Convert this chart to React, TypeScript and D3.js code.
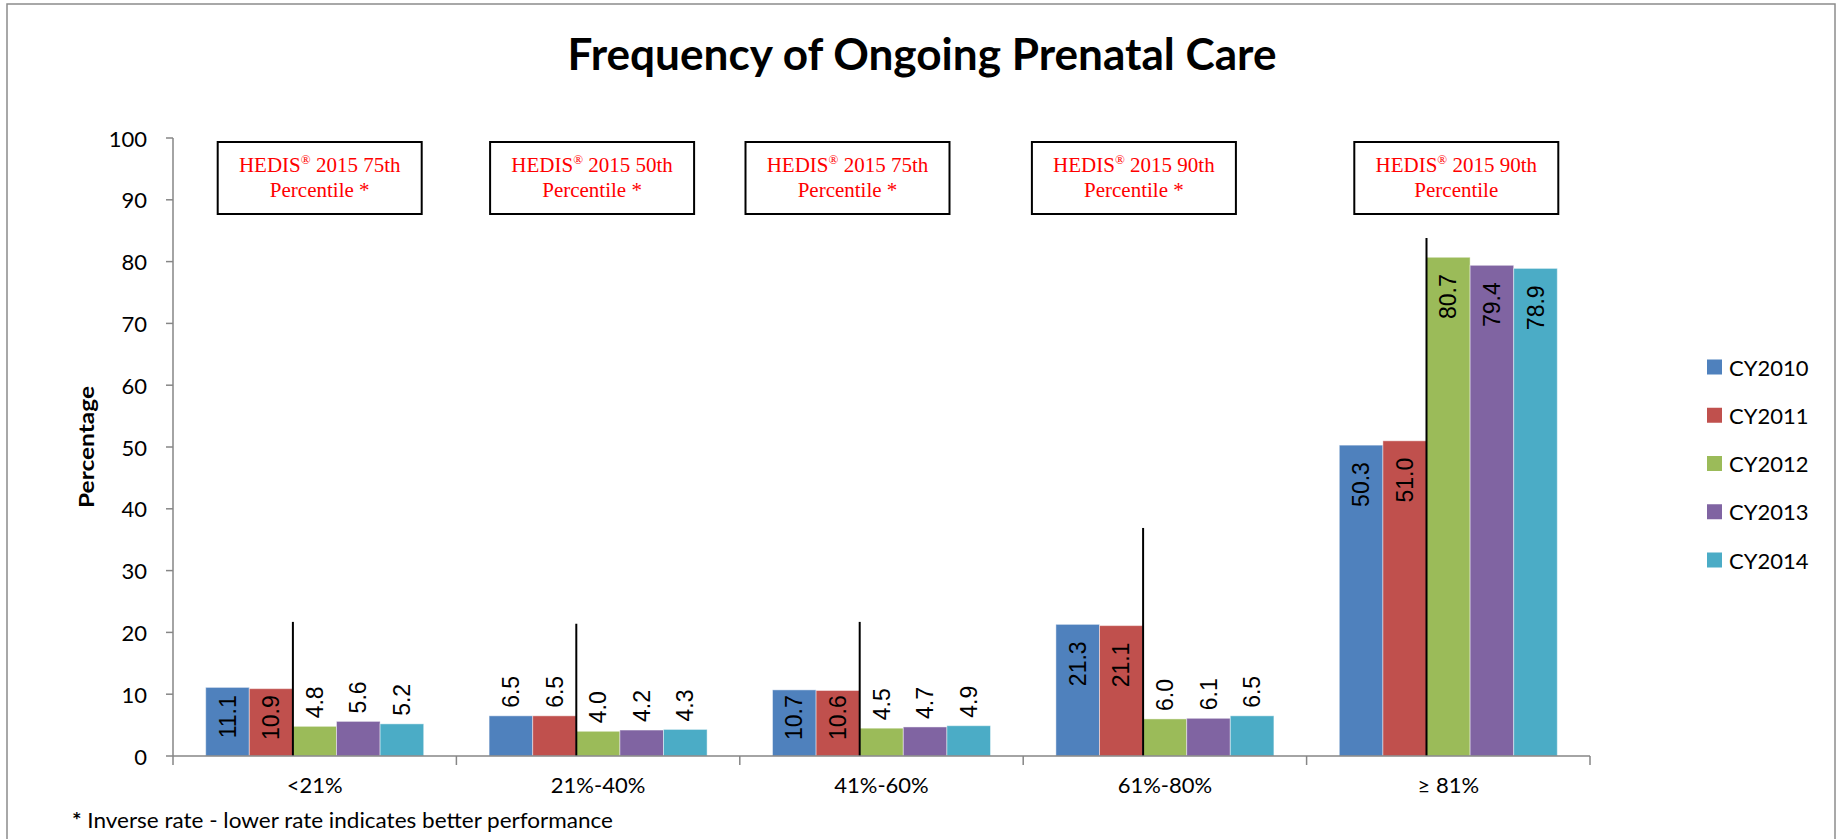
import React from 'react';
import * as d3 from 'd3';

const categories = ['<21%', '21%-40%', '41%-60%', '61%-80%', '≥ 81%'];
const seriesNames = ['CY2010', 'CY2011', 'CY2012', 'CY2013', 'CY2014'];
const cy2010 = [11.1, 6.5, 10.7, 21.3, 50.3];
const cy2011 = [10.9, 6.5, 10.6, 21.1, 51.0];
const cy2012 = [4.8, 4.0, 4.5, 6.0, 80.7];
const cy2013 = [5.6, 4.2, 4.7, 6.1, 79.4];
const cy2014 = [5.2, 4.3, 4.9, 6.5, 78.9];
const seriesValues = [cy2010, cy2011, cy2012, cy2013, cy2014];
const colors = ['#4F81BD', '#C0504D', '#9BBB59', '#8064A2', '#4BACC6'];

// HEDIS benchmark notes over each group
const notePercentile = ['75th', '50th', '75th', '90th', '90th'];
const noteInverse = [true, true, true, true, false];
// height (in %) reached by the black divider line of each group
const dividerTop = [21.7, 21.4, 21.7, 36.9, 83.8];
const yTicks = [0, 10, 20, 30, 40, 50, 60, 70, 80, 90, 100];

// layout only
const W = 1837;
const H = 839;
const M = { left: 173, right: 1590, top: 138, bottom: 756 };
const noteShift = [5, -6, -34, -31, 8];
const SANS = 'Lato, "Open Sans", sans-serif';
const LABEL_FONT = 23;

const labelLen = (s: string) =>
  s.split('').reduce((a, c) => a + (c === '.' ? 0.278 : 0.556), 0) * LABEL_FONT;

export default function App() {
  const y = d3.scaleLinear().domain([0, 100]).range([M.bottom, M.top]);
  const x0 = d3.scaleBand<string>().domain(categories).range([M.left, M.right]).padding(0);
  const x1 = d3
    .scaleBand<string>()
    .domain(seriesNames)
    .range([0, x0.bandwidth()])
    .paddingInner(0)
    .paddingOuter(0.75);

  const legendY = d3.scalePoint<string>().domain(seriesNames).range([367, 560]);

  return (
    <svg
      width={W}
      height={H}
      style={{ position: 'absolute', left: 0, top: 0, background: '#fff' }}
    >
      {/* chart frame */}
      <rect x={7} y={4} width={1828} height={860} fill="#fff" stroke="#8c8c8c" strokeWidth={1.5} />

      {/* title */}
      <text
        x={922}
        y={70}
        textAnchor="middle"
        fontFamily={SANS}
        fontWeight="bold"
        fontSize={44}
        textLength={709}
        lengthAdjust="spacingAndGlyphs"
      >
        Frequency of Ongoing Prenatal Care
      </text>

      {/* y axis */}
      <line x1={M.left} x2={M.left} y1={y(0)} y2={y(100)} stroke="#868686" strokeWidth={1.5} />
      {yTicks.map(t => (
        <g key={t}>
          <line x1={M.left - 7} x2={M.left} y1={y(t)} y2={y(t)} stroke="#868686" strokeWidth={1.5} />
          <text
            x={147}
            y={y(t)}
            textAnchor="end"
            dominantBaseline="central"
            fontFamily={SANS}
            fontSize={22}
            fill="#000"
          >
            {t}
          </text>
        </g>
      ))}
      <text
        transform={`translate(85,${(y(0) + y(100)) / 2}) rotate(-90)`}
        textAnchor="middle"
        dominantBaseline="central"
        fontFamily={SANS}
        fontWeight="bold"
        fontSize={21}
        textLength={122}
        lengthAdjust="spacingAndGlyphs"
      >
        Percentage
      </text>

      {/* bars */}
      {categories.map((cat, ci) => (
        <g key={cat} transform={`translate(${x0(cat)},0)`}>
          {seriesNames.map((s, si) => {
            const v = seriesValues[si][ci];
            return (
              <rect
                key={s}
                x={x1(s)}
                y={y(v)}
                width={x1.bandwidth()}
                height={y(0) - y(v)}
                fill={colors[si]}
                stroke="#ffffff"
                strokeOpacity={0.45}
                strokeWidth={1}
              />
            );
          })}
        </g>
      ))}

      {/* black dividers between CY2011 and CY2012 */}
      {categories.map((cat, ci) => {
        const xd = (x0(cat) as number) + (x1('CY2012') as number);
        return (
          <line
            key={cat}
            x1={xd}
            x2={xd}
            y1={y(0)}
            y2={y(dividerTop[ci])}
            stroke="#000"
            strokeWidth={2}
          />
        );
      })}

      {/* x axis */}
      <line x1={M.left} x2={M.right} y1={y(0)} y2={y(0)} stroke="#868686" strokeWidth={1.5} />
      {[...categories.map(c => x0(c) as number), M.right].map((xt, i) => (
        <line key={i} x1={xt} x2={xt} y1={y(0)} y2={y(0) + 9} stroke="#868686" strokeWidth={1.5} />
      ))}
      {categories.map(cat => (
        <text
          key={cat}
          x={(x0(cat) as number) + x0.bandwidth() / 2}
          y={793}
          textAnchor="middle"
          fontFamily={SANS}
          fontSize={22}
        >
          {cat}
        </text>
      ))}

      {/* data labels: inside end when they fit, else above the bar */}
      {categories.map((cat, ci) =>
        seriesNames.map((s, si) => {
          const v = seriesValues[si][ci];
          const txt = v.toFixed(1);
          const len = labelLen(txt);
          const cx = (x0(cat) as number) + (x1(s) as number) + x1.bandwidth() / 2;
          const barH = y(0) - y(v);
          const pad = Math.min(17, barH - len - 16);
          const inside = pad >= 0;
          const ay = inside ? y(v) + Math.max(pad, 4) : y(v) - 8;
          return (
            <text
              key={`${cat}-${s}`}
              transform={`translate(${cx},${ay}) rotate(-90)`}
              textAnchor={inside ? 'end' : 'start'}
              dominantBaseline="central"
              fontFamily='"Liberation Sans", Arial, sans-serif'
              fontSize={LABEL_FONT}
              fill="#000"
            >
              {txt}
            </text>
          );
        })
      )}

      {/* HEDIS notes */}
      {categories.map((cat, ci) => {
        const cx = (x0(cat) as number) + x0.bandwidth() / 2 + noteShift[ci];
        return (
          <g key={cat}>
            <rect x={cx - 102} y={142} width={204} height={72} fill="#fff" stroke="#000" strokeWidth={2} />
            <text
              x={cx}
              y={172}
              textAnchor="middle"
              fontFamily='"Liberation Serif", "Times New Roman", serif'
              fontSize={21}
              fill="#FF0000"
            >
              HEDIS
              <tspan fontSize={13} dy={-8}>®</tspan>
              <tspan dy={8}> 2015 {notePercentile[ci]}</tspan>
            </text>
            <text
              x={cx}
              y={197}
              textAnchor="middle"
              fontFamily='"Liberation Serif", "Times New Roman", serif'
              fontSize={21}
              fill="#FF0000"
            >
              {noteInverse[ci] ? 'Percentile *' : 'Percentile'}
            </text>
          </g>
        );
      })}

      {/* legend */}
      {seriesNames.map((s, si) => (
        <g key={s} transform={`translate(1707,${legendY(s)})`}>
          <rect x={0} y={-7.5} width={15} height={15} fill={colors[si]} />
          <text x={22} y={0} dominantBaseline="central" fontFamily={SANS} fontSize={22}>
            {s}
          </text>
        </g>
      ))}

      {/* footnote */}
      <text x={72} y={828} fontFamily={SANS} fontSize={21} textLength={541} lengthAdjust="spacingAndGlyphs">
        <tspan fontWeight="bold">*</tspan> Inverse rate - lower rate indicates better performance
      </text>
    </svg>
  );
}
